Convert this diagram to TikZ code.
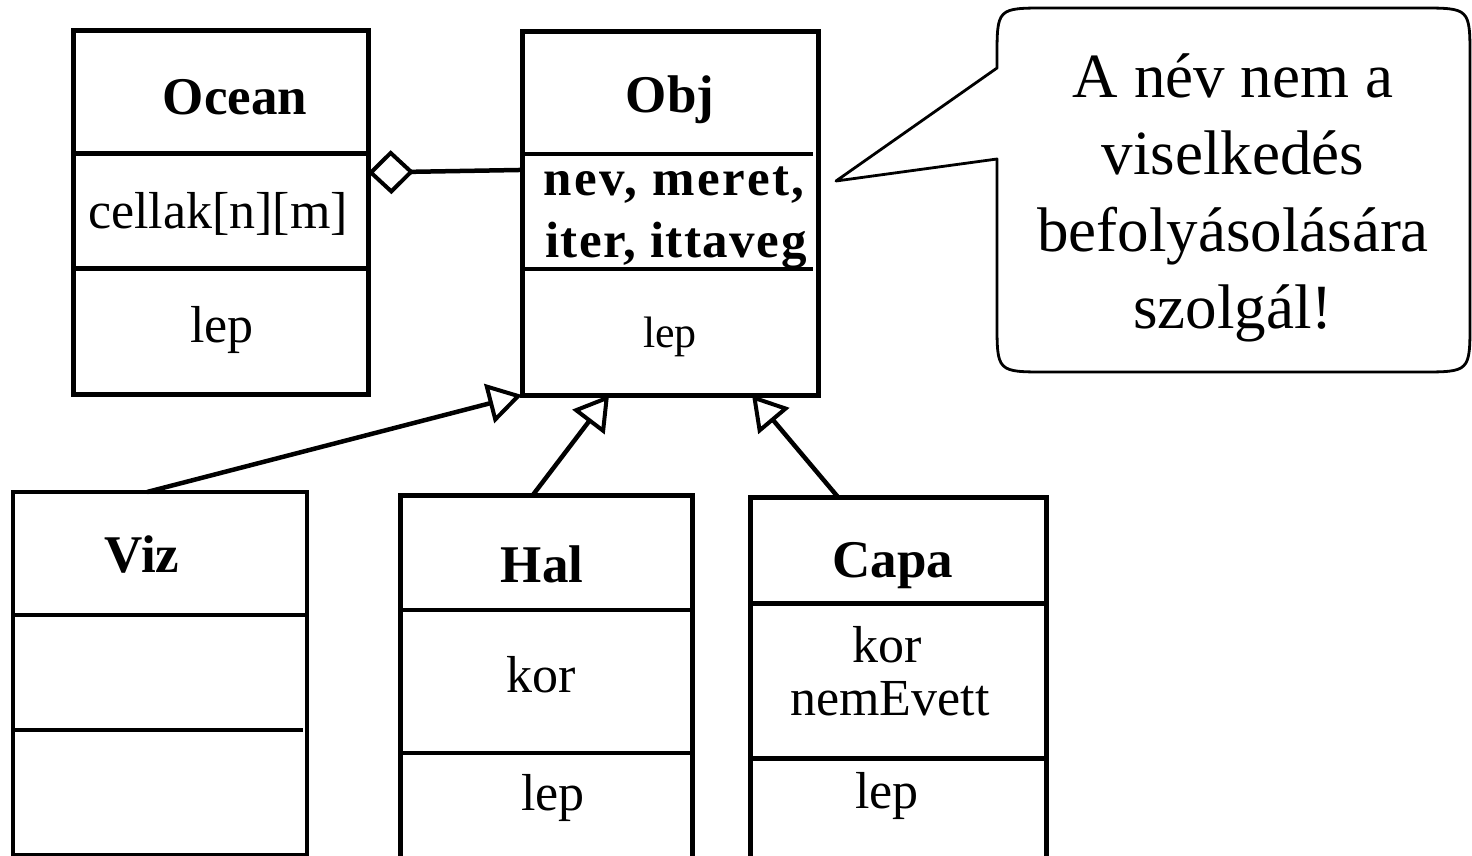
\documentclass[tikz,border=0pt]{standalone}
\usepackage{fontspec}
\setmainfont{Liberation Serif}
\usetikzlibrary{arrows.meta,calc}
\begin{document}
\begin{tikzpicture}[x=1pt,y=-1pt,
  cls/.style={draw, line width=5pt, inner sep=0pt, outer sep=0pt},
  thincls/.style={draw, line width=3.5pt, inner sep=0pt, outer sep=0pt},
  sep/.style={line width=5pt},
  thinsep/.style={line width=4pt},
  txt/.style={inner sep=0pt, anchor=base, font=\fontsize{52}{60}\selectfont},
  ttl/.style={inner sep=0pt, anchor=base, font=\fontsize{53}{60}\selectfont\bfseries},
  gen/.style={line width=4.5pt, -{Triangle[open, length=34pt, width=40pt, line width=4pt]}},
  agg/.style={line width=4.5pt, {Diamond[open, length=46pt, width=44pt, line width=4pt]}-},
  bubble/.style={draw, line width=2.8pt, line join=round}
]
\useasboundingbox (0,0) rectangle (1472,856);
\clip (0,0) rectangle (1472,856);

% class boxes
\node[cls, minimum width=295pt, minimum height=363pt] (ocean) at (220.5,212.5) {};
\node[cls, minimum width=296pt, minimum height=363pt] (obj) at (670,213.5) {};
\node[thincls, minimum width=294pt, minimum height=363pt] (viz) at (160,673.5) {};
\node[cls, minimum width=292pt, minimum height=385pt] (hal) at (546,687.5) {};
\node[cls, minimum width=296pt, minimum height=383pt] (capa) at (898,688.5) {};

% compartments
\draw[sep] (ocean.west |- 0,153) -- (ocean.east |- 0,153);
\draw[sep] (ocean.west |- 0,268) -- (ocean.east |- 0,268);
\draw[thinsep] (obj.west |- 0,154) -- (813,154);
\draw[thinsep] (obj.west |- 0,269) -- (813,269);
\draw[thinsep] (viz.west |- 0,615) -- (viz.east |- 0,615);
\draw[thinsep] (viz.west |- 0,730) -- (303,730);
\draw[thinsep] (hal.west |- 0,610) -- (hal.east |- 0,610);
\draw[thinsep] (hal.west |- 0,753) -- (hal.east |- 0,753);
\draw[sep] (capa.west |- 0,603) -- (capa.east |- 0,603);
\draw[sep] (capa.west |- 0,758) -- (capa.east |- 0,758);

% texts
\node[ttl] (oceanT) at (235,115) {Ocean};
\node[txt] (oceanA) at (218,228) {cellak[n][m]};
\node[txt] (oceanM) at (222,342) {lep};

\node[ttl] (objT) at (670,113) {Obj};
\node[ttl, anchor=base west, font=\fontsize{51}{60}\selectfont\bfseries\addfontfeatures{LetterSpace=5}] (objA1) at (543,195) {nev, meret,};
\node[ttl, anchor=base west, font=\fontsize{51}{60}\selectfont\bfseries\addfontfeatures{LetterSpace=3}] (objA2) at (545,257) {iter, ittaveg};
\node[txt, font=\fontsize{44}{52}\selectfont] (objM) at (670,347) {lep};

\node[ttl] (vizT) at (142,572) {Viz};

\node[ttl] (halT) at (542,582) {Hal};
\node[txt] (halA) at (541,692) {kor};
\node[txt] (halM) at (553,810) {lep};

\node[ttl] (capaT) at (893,577) {Capa};
\node[txt] (capaA1) at (887,662) {kor};
\node[txt] (capaA2) at (890,715) {nemEvett};
\node[txt] (capaM) at (887,808) {lep};

% connectors
\draw[agg] ($(ocean.north east)!0.39!(ocean.south east)$) -- ($(obj.north west)!0.38!(obj.south west)$);
\draw[gen] ($(viz.north west)!0.456!(viz.north east)$) -- (obj.south west);
\draw[gen] ($(hal.north west)!0.455!(hal.north east)$) -- ($(obj.south west)!0.294!(obj.south east)$);
\draw[gen] ($(capa.north west)!0.297!(capa.north east)$) -- ($(obj.south west)!0.777!(obj.south east)$);

% callout
\draw[bubble] (836,181) -- (997,68) -- (997,58) .. controls (997,8) .. (1047,8)
  -- (1420,8) .. controls (1470,8) .. (1470,58) -- (1470,322)
  .. controls (1470,372) .. (1420,372) -- (1047,372)
  .. controls (997,372) .. (997,322) -- (997,159) -- cycle;
\node[inner sep=0pt, align=center, font=\fontsize{63}{77}\selectfont] (note) at (1233,198)
  {A név nem a\\viselkedés\\befolyásolására\\szolgál!};
\end{tikzpicture}
\end{document}
